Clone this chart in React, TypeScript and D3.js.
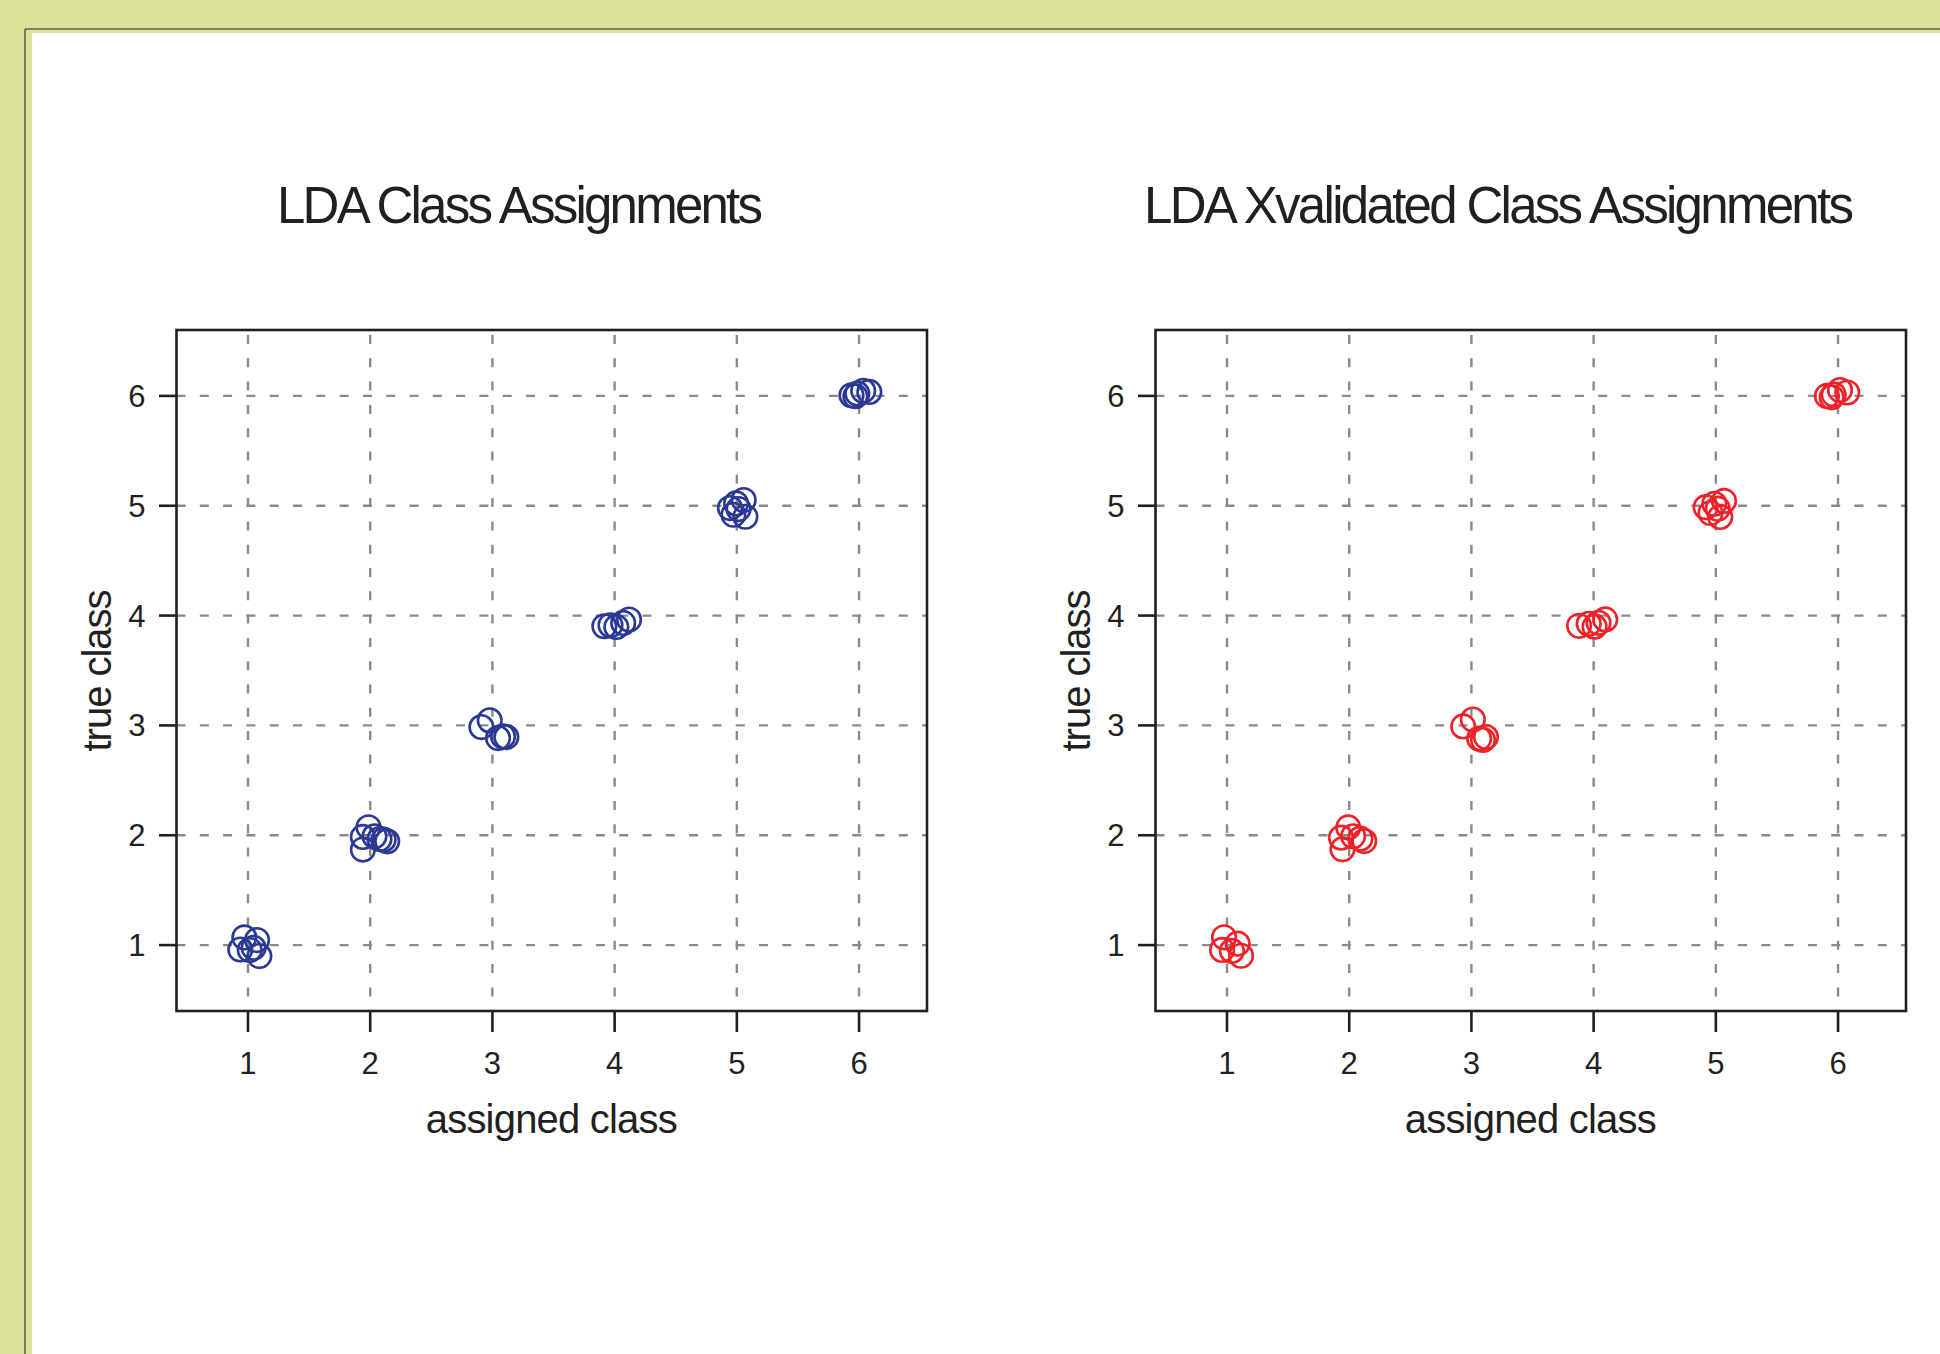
import React from "react";
import * as d3 from "d3";

// ---- data ----
const classTicks = [1, 2, 3, 4, 5, 6];

// LDA class assignments (jittered), plot 1
const ldaAssigned = [
  0.97, 0.937, 1.074, 1.093, 1.014, 1.046,
  1.986, 1.94, 1.94, 2.035, 2.076, 2.11, 2.139,
  2.91, 2.978, 3.046, 3.087, 3.114,
  3.916, 3.966, 4.014, 4.07, 4.118,
  4.944, 4.994, 5.056, 4.972, 5.07, 5.014,
  5.938, 5.986, 6.034, 6.084, 5.97,
];
const ldaTrue = [
  1.07, 0.96, 1.046, 0.9, 0.955, 0.975,
  2.073, 1.985, 1.87, 1.99, 1.966, 1.96, 1.945,
  2.985, 3.046, 2.885, 2.9, 2.894,
  3.903, 3.912, 3.897, 3.933, 3.964,
  4.979, 5.021, 5.052, 4.918, 4.9, 4.97,
  6.006, 6.021, 6.046, 6.036, 5.997,
];

// LDA cross-validated class assignments (jittered), plot 2
const xvAssigned = [
  0.976, 0.96, 1.087, 1.115, 1.04,
  1.992, 1.933, 1.945, 2.032, 2.091, 2.123,
  2.933, 3.012, 3.063, 3.119, 3.095,
  3.881, 3.96, 4.008, 4.095, 4.04,
  4.917, 4.988, 5.067, 5.036, 4.956, 5.016,
  5.909, 5.964, 6.016, 6.075, 5.948,
];
const xvTrue = [
  1.071, 0.956, 1.013, 0.903, 0.947,
  2.071, 1.978, 1.872, 1.991, 1.969, 1.947,
  2.991, 3.053, 2.881, 2.894, 2.868,
  3.907, 3.925, 3.899, 3.965, 3.934,
  4.987, 5.018, 5.044, 4.898, 4.934, 4.973,
  6.0, 6.013, 6.053, 6.031, 5.987,
];

const titles = ["LDA Class Assignments", "LDA Xvalidated Class Assignments"];
const xLabel = "assigned class";
const yLabel = "true class";

// ---- layout ----
const FONT = "'Liberation Sans', Arial, Helvetica, sans-serif";
const BOX_W = 750.5;
const BOX_H = 681;
const BOX_TOP = 330;
const TEXT = "#231f20";

type PanelProps = {
  left: number;
  title: string;
  titleLength: number;
  xs: number[];
  ys: number[];
  color: string;
};

function Panel({ left, title, titleLength, xs, ys, color }: PanelProps) {
  const x = d3.scaleLinear().domain([0.415, 6.556]).range([0, BOX_W]);
  const y = d3.scaleLinear().domain([0.4, 6.6]).range([BOX_H, 0]);
  const pts = xs.map((v, i) => [v, ys[i]] as [number, number]);
  return (
    <g transform={`translate(${left},${BOX_TOP})`}>
      <text
        x={343.5}
        y={223 - BOX_TOP}
        textAnchor="middle"
        fontFamily={FONT}
        fontSize={51}
        fill={TEXT}
        textLength={titleLength}
        lengthAdjust="spacing"
      >
        {title}
      </text>
      {/* grid */}
      {classTicks.map((t) => (
        <line
          key={"gx" + t}
          x1={x(t)}
          x2={x(t)}
          y1={0}
          y2={BOX_H}
          stroke="#8a8a8a"
          strokeWidth={2.4}
          strokeDasharray="9 14.3"
          strokeDashoffset={-5}
        />
      ))}
      {classTicks.map((t) => (
        <line
          key={"gy" + t}
          x1={0}
          x2={BOX_W}
          y1={y(t)}
          y2={y(t)}
          stroke="#8a8a8a"
          strokeWidth={2.4}
          strokeDasharray="9 14.3"
        />
      ))}
      {/* points */}
      {pts.map((p, i) => (
        <circle
          key={i}
          cx={x(p[0])}
          cy={y(p[1])}
          r={11.8}
          fill="none"
          stroke={color}
          strokeWidth={2.6}
        />
      ))}
      {/* box */}
      <rect x={0} y={0} width={BOX_W} height={BOX_H} fill="none" stroke={TEXT} strokeWidth={2.6} />
      {/* x ticks */}
      {classTicks.map((t) => (
        <g key={"tx" + t}>
          <line x1={x(t)} x2={x(t)} y1={BOX_H} y2={BOX_H + 21} stroke={TEXT} strokeWidth={2.6} />
          <text
            x={x(t)}
            y={1074 - BOX_TOP}
            textAnchor="middle"
            fontFamily={FONT}
            fontSize={31}
            fill={TEXT}
          >
            {t}
          </text>
        </g>
      ))}
      {/* y ticks */}
      {classTicks.map((t) => (
        <g key={"ty" + t}>
          <line x1={-17.5} x2={0} y1={y(t)} y2={y(t)} stroke={TEXT} strokeWidth={2.6} />
          <text
            x={-31}
            y={y(t) + 11}
            textAnchor="end"
            fontFamily={FONT}
            fontSize={31}
            fill={TEXT}
          >
            {t}
          </text>
        </g>
      ))}
      <text
        x={BOX_W / 2}
        y={1133 - BOX_TOP}
        textAnchor="middle"
        fontFamily={FONT}
        fontSize={40}
        fill={TEXT}
        textLength={252}
        lengthAdjust="spacing"
      >
        {xLabel}
      </text>
      <text
        transform={`translate(${111 - 176.5},${BOX_H / 2}) rotate(-90)`}
        textAnchor="middle"
        fontFamily={FONT}
        fontSize={40}
        fill={TEXT}
        textLength={162}
        lengthAdjust="spacing"
      >
        {yLabel}
      </text>
    </g>
  );
}

export default function App() {
  return (
    <svg
      width={1940}
      height={1354}
      style={{ position: "absolute", left: 0, top: 0, display: "block" }}
    >
      <rect x={0} y={0} width={1940} height={1354} fill="#dbe297" />
      <line x1={25} y1={29} x2={25} y2={1354} stroke="#5e5e52" strokeWidth={1.6} />
      <line x1={25} y1={29} x2={1940} y2={29} stroke="#5e5e52" strokeWidth={1.6} />
      <rect x={32} y={33} width={1940 - 32} height={1354 - 33} fill="#ffffff" />
      <Panel
        left={176.5}
        title={titles[0]}
        titleLength={486}
        xs={ldaAssigned}
        ys={ldaTrue}
        color="#2b3994"
      />
      <Panel
        left={1155.5}
        title={titles[1]}
        titleLength={710}
        xs={xvAssigned}
        ys={xvTrue}
        color="#ee2229"
      />
    </svg>
  );
}
